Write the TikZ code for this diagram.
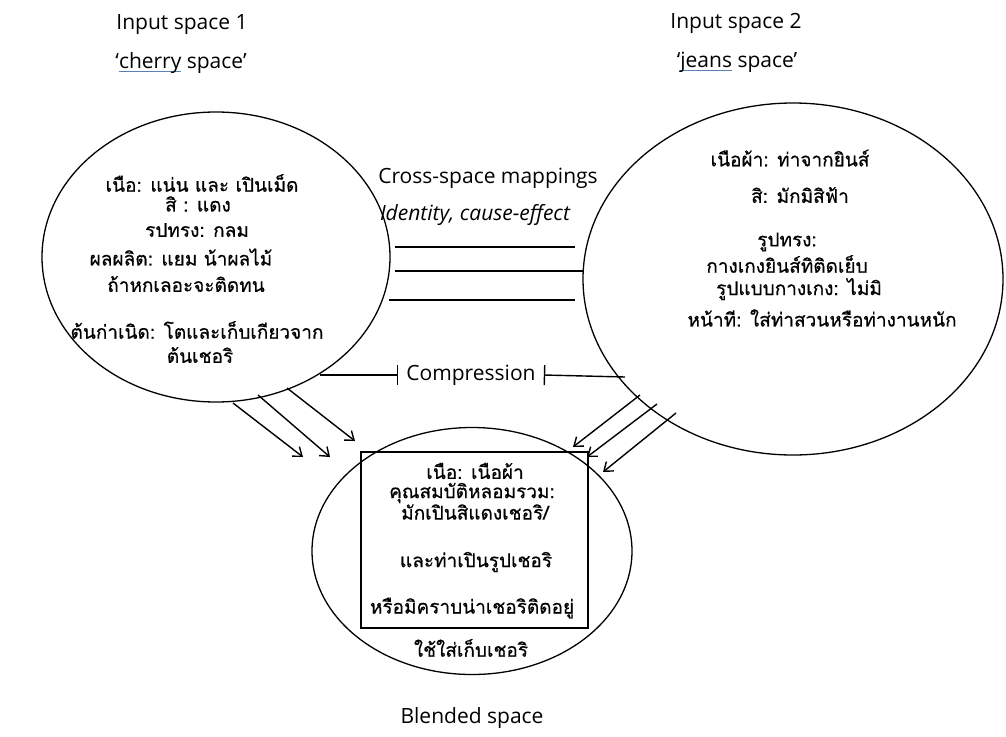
\documentclass[tikz,border=0pt]{standalone}
\usepackage{fontspec}
\setmainfont{Open Sans}
\newfontfamily\thaifont[Script=Thai,FakeBold=0.5]{Loma}
\usetikzlibrary{shapes.geometric,arrows.meta}
\definecolor{ulblue}{HTML}{5B80B5}
% word with a thin blue underline
\newsavebox\ulbox
\newcommand\ulword[1]{\sbox\ulbox{#1}\rlap{\color{ulblue}\rule[-3.5pt]{\wd\ulbox}{1pt}}\usebox\ulbox}

\begin{document}
\begin{tikzpicture}[x=1pt,y=-1pt,
  lat/.style={font=\fontsize{21}{25}\selectfont, inner sep=0pt},
  latit/.style={font=\fontsize{21}{25}\selectfont\itshape, inner sep=0pt},
  th/.style={font=\thaifont\fontsize{19}{23}\selectfont, inner sep=0pt},
  space/.style={draw, ellipse, line width=1.3pt, inner sep=0pt},
  ln/.style={line width=1.4pt},
  proj/.style={line width=1.4pt, -{Straight Barb[length=8pt,width=12pt,line width=1.4pt]}},
  bar/.style={line width=1.4pt, -{Bar[width=20pt,line width=1.4pt]}}]
\useasboundingbox (0,0) rectangle (1006,736);

% the three mental spaces
\node[space, minimum width=348pt, minimum height=290pt] (in1) at (216,257) {};
\node[space, minimum width=420pt, minimum height=352pt] (in2) at (793,279) {};
\node[space, minimum width=320pt, minimum height=247pt] (bl) at (472,551) {};
\node[draw, line width=1.4pt, minimum width=227pt, minimum height=176pt, inner sep=0pt] (box) at (474.5,540) {};

% headings
\node[lat] (h1a) at (182,25) {Input space 1};
\node[lat] (h1b) at (181,63) {`\ulword{cherry} space'};
\node[lat] (h2a) at (736,23) {Input space 2};
\node[lat] (h2b) at (737,62) {`\ulword{jeans} space'};
\node[lat] (hb) at (472,718) {Blended space};

% cross-space mappings
\node[lat] (cs) at (488,178) {Cross-space mappings};
\node[latit] (ce) at (475,215) {Identity, cause-effect};
\coordinate (m1a) at (395,247); \coordinate (m1b) at (575,247);
\coordinate (m2a) at (395,271); \coordinate (m2b) at (583,271);
\coordinate (m3a) at (389,300); \coordinate (m3b) at (575,300);
\draw[ln] (m1a) -- (m1b);
\draw[ln] (m2a) -- (m2b);
\draw[ln] (m3a) -- (m3b);

% compression
\node[lat, inner xsep=8pt] (comp) at (471,375) {Compression};
\coordinate (cl) at (320,375);
\coordinate (cr) at (625,377);
\draw[bar] (cl) -- (comp.west);
\draw[bar] (cr) -- (comp.east);

% projections into the blend
\coordinate (p1s) at (233,403); \coordinate (p1e) at (303,457);
\coordinate (p2s) at (258,395); \coordinate (p2e) at (330,457);
\coordinate (p3s) at (287,388); \coordinate (p3e) at (355,441);
\coordinate (q1s) at (640,395); \coordinate (q1e) at (573,447);
\coordinate (q2s) at (657,404); \coordinate (q2e) at (587,457);
\coordinate (q3s) at (676,413); \coordinate (q3e) at (603,472);
\foreach \s/\e in {p1s/p1e,p2s/p2e,p3s/p3e,q1s/q1e,q2s/q2e,q3s/q3e}
  \draw[proj] (\s) -- (\e);

% input space 1 contents
\node[th] (a1) at (202,183) {เนือ: แน่น และ เปินเม็ด};
\node[th] (a2) at (198,204) {สิ : แดง};
\node[th] (a3) at (197,230) {รปทรง: กลม};
\node[th] (a4) at (181,257) {ผลผลิต: แยม น้าผลไม้};
\node[th] (a5) at (186,284) {ถ้าหกเลอะจะติดทน};
\node[th] (a6) at (197,330) {ต้นก่าเนิด: โตและเก็บเกียวจาก};
\node[th] (a7) at (200,355) {ต้นเชอริ};

% input space 2 contents
\node[th] (b1) at (790,158) {เนือผ้า: ท่าจากยินส์};
\node[th] (b2) at (800,195) {สิ: มักมิสิฟ้า};
\node[th] (b3) at (787,242) {รูปทรง:};
\node[th] (b4) at (787,264) {กางเกงยินส์ทิติดเย็บ};
\node[th] (b5) at (799,289) {รูปแบบกางเกง: ไม่มิ};
\node[th] (b6) at (822,318) {หน้าที: ใส่ท่าสวนหรือท่างานหนัก};

% blended space contents
\node[th] (c1) at (475,471) {เนือ: เนือผ้า};
\node[th] (c2) at (472,493) {คุณสมบัติหลอมรวม:};
\node[th] (c3) at (475,512) {มักเปินสิแดงเชอริ/};
\node[th] (c4) at (476,562) {และท่าเปินรูปเชอริ};
\node[th] (c5) at (472,608) {หรือมิคราบน่าเชอริติดอยู่};
\node[th] (c6) at (471,648) {ใช้ใส่เก็บเชอริ};
\end{tikzpicture}
\end{document}
